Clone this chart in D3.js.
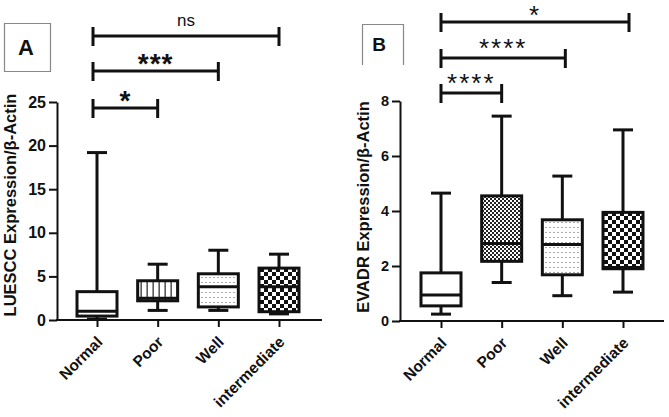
<!DOCTYPE html>
<html>
<head>
<meta charset="utf-8">
<script src="https://cdn.jsdelivr.net/npm/d3@7/dist/d3.min.js"></script>
<style>
  body { margin: 0; background: #fff; }
  svg { display: block; }
  text { font-family: "Liberation Sans", Arial, sans-serif; fill: #111; }
</style>
</head>
<body>
<div id="chart"></div>
<script>
// categories on both panels
var cats = ["Normal", "Poor", "Well", "intermediate"];

// panel A - LUESCC box stats (min, q1, median, q3, max)
var luesccMin = [0.1, 1.1, 1.1, 0.7];
var luesccQ1  = [0.45, 2.2, 1.5, 0.95];
var luesccMed = [1.0, 2.5, 3.8, 3.8];
var luesccQ3  = [3.25, 4.5, 5.3, 5.95];
var luesccMax = [19.2, 6.4, 8.0, 7.55];
var ticksA = [0, 5, 10, 15, 20, 25];

// panel B - EVADR box stats
var evadrMin = [0.25, 1.4, 0.92, 1.05];
var evadrQ1  = [0.55, 2.17, 1.68, 1.9];
var evadrMed = [0.95, 2.82, 2.78, 1.95];
var evadrQ3  = [1.75, 4.55, 3.68, 3.95];
var evadrMax = [4.65, 7.45, 5.27, 6.95];
var ticksB = [0, 2, 4, 6, 8];

// significance brackets
var sigA = [
  {a: "Normal", b: "Poor", label: "*"},
  {a: "Normal", b: "Well", label: "***"},
  {a: "Normal", b: "intermediate", label: "ns"}
];
var sigB = [
  {a: "Normal", b: "Poor", label: "****"},
  {a: "Normal", b: "Well", label: "****"},
  {a: "Normal", b: "intermediate", label: "*"}
];

var fillsA = ["plain", "stripes", "dots", "checker"];
var fillsB = ["plain", "finecheck", "dots", "checker"];

var svg = d3.select("#chart").append("svg")
    .attr("width", 669)
    .attr("height", 417);

svg.append("rect").attr("width", 669).attr("height", 417).attr("fill", "#fff");

// fill patterns
var defs = svg.append("defs");
var p = defs.append("pattern").attr("id", "stripes").attr("patternUnits", "userSpaceOnUse")
    .attr("width", 6).attr("height", 10);
p.append("rect").attr("width", 6).attr("height", 10).attr("fill", "#fff");
p.append("rect").attr("x", 2.5).attr("width", 1.3).attr("height", 10).attr("fill", "#333");

p = defs.append("pattern").attr("id", "dots").attr("patternUnits", "userSpaceOnUse")
    .attr("width", 4).attr("height", 5);
p.append("rect").attr("width", 4).attr("height", 5).attr("fill", "#fff");
p.append("rect").attr("x", 1.5).attr("y", 2).attr("width", 1).attr("height", 1).attr("fill", "#555");

p = defs.append("pattern").attr("id", "checker").attr("patternUnits", "userSpaceOnUse")
    .attr("width", 8).attr("height", 8);
p.append("rect").attr("width", 8).attr("height", 8).attr("fill", "#fff");
p.append("rect").attr("width", 4).attr("height", 4).attr("fill", "#111");
p.append("rect").attr("x", 4).attr("y", 4).attr("width", 4).attr("height", 4).attr("fill", "#111");

p = defs.append("pattern").attr("id", "finecheck").attr("patternUnits", "userSpaceOnUse")
    .attr("width", 4).attr("height", 4);
p.append("rect").attr("width", 4).attr("height", 4).attr("fill", "#fff");
p.append("rect").attr("width", 2).attr("height", 2).attr("fill", "#222");
p.append("rect").attr("x", 2).attr("y", 2).attr("width", 2).attr("height", 2).attr("fill", "#222");

function drawPanel(cfg)
{
    var y = d3.scaleLinear().domain(cfg.domain).range([cfg.y0, cfg.y1]);
    var x = d3.scalePoint().domain(cats).range(cfg.xr);

    var g = svg.append("g");

    // y axis
    g.append("g")
        .attr("transform", "translate(" + cfg.ax + ",0)")
        .call(d3.axisLeft(y).tickValues(cfg.ticks).tickSize(8).tickSizeOuter(0).tickPadding(3))
        .call(function(a) {
            a.selectAll("path, line").attr("stroke", "#111").attr("stroke-width", 2);
            a.selectAll("text").attr("font-size", cfg.tickFont).attr("font-weight", "bold")
                .attr("font-family", "Liberation Sans, Arial, sans-serif").attr("fill", "#111");
        });

    // x axis
    g.append("line")
        .attr("x1", cfg.ax - 1).attr("x2", cfg.axEnd)
        .attr("y1", y(0)).attr("y2", y(0))
        .attr("stroke", "#111").attr("stroke-width", 2);
    var xa = g.append("g")
        .attr("transform", "translate(0," + y(0) + ")")
        .call(d3.axisBottom(x).tickSize(7).tickSizeOuter(0));
    xa.select(".domain").remove();
    xa.selectAll("line").attr("stroke", "#111").attr("stroke-width", 2);
    xa.selectAll("text")
        .attr("font-size", 15.5).attr("font-weight", "bold")
        .attr("font-family", "Liberation Sans, Arial, sans-serif").attr("fill", "#111")
        .attr("text-anchor", "end")
        .attr("dy", 0)
        .attr("y", 0)
        .attr("transform", "translate(6,23)rotate(-45)");

    // boxes
    var bw = 40, cw = 20;
    var stats = cats.map(function(c, i) {
        return {cat: c, min: cfg.min[i], q1: cfg.q1[i], med: cfg.med[i], q3: cfg.q3[i], max: cfg.max[i], fill: cfg.fills[i]};
    });
    var box = g.selectAll(".box").data(stats).enter().append("g").attr("class", "box");
    box.append("line")
        .attr("x1", function(d) { return x(d.cat); }).attr("x2", function(d) { return x(d.cat); })
        .attr("y1", function(d) { return y(d.min); }).attr("y2", function(d) { return y(d.max); })
        .attr("stroke", "#111").attr("stroke-width", 3);
    box.selectAll(".cap").data(function(d) { return [[d.cat, d.min], [d.cat, d.max]]; })
        .enter().append("line")
        .attr("x1", function(d) { return x(d[0]) - cw / 2; }).attr("x2", function(d) { return x(d[0]) + cw / 2; })
        .attr("y1", function(d) { return y(d[1]); }).attr("y2", function(d) { return y(d[1]); })
        .attr("stroke", "#111").attr("stroke-width", 3);
    box.append("rect")
        .attr("x", function(d) { return x(d.cat) - bw / 2; })
        .attr("width", bw)
        .attr("y", function(d) { return y(d.q3); })
        .attr("height", function(d) { return y(d.q1) - y(d.q3); })
        .attr("fill", function(d) { return d.fill == "plain" ? "#fff" : "url(#" + d.fill + ")"; })
        .attr("stroke", "#111").attr("stroke-width", 3);
    box.append("line")
        .attr("x1", function(d) { return x(d.cat) - bw / 2; }).attr("x2", function(d) { return x(d.cat) + bw / 2; })
        .attr("y1", function(d) { return y(d.med); }).attr("y2", function(d) { return y(d.med); })
        .attr("stroke", "#111").attr("stroke-width", 3);

    // y label
    g.append("text")
        .attr("transform", "translate(" + cfg.labX + "," + cfg.labY + ")rotate(-90)")
        .attr("text-anchor", "middle")
        .attr("font-size", 16.5).attr("font-weight", "bold")
        .text(cfg.label);

    // significance brackets
    cfg.sig.forEach(function(s, i) {
        var by = cfg.sigY[i];
        var x1 = x(s.a) + cfg.sigDx[0], x2 = x(s.b) + cfg.sigDx[1] * i;
        g.append("path")
            .attr("d", "M" + x1 + "," + (by - 9) + "V" + (by + 10) + "M" + x1 + "," + by + "H" + x2 +
                       "M" + x2 + "," + (by - 9) + "V" + (by + 10))
            .attr("fill", "none").attr("stroke", "#111").attr("stroke-width", 3);
        var t = g.append("text")
            .attr("x", (x1 + x2) / 2)
            .attr("text-anchor", "middle")
            .text(s.label);
        if (s.label == "ns")
            t.attr("y", by - 10).attr("font-size", 17);
        else
            t.attr("y", Math.max(by + cfg.starDy, cfg.starFont * 0.92)).attr("font-size", cfg.starFont)
             .attr("font-weight", cfg.starWeight).attr("letter-spacing", cfg.starSpace);
    });

    // panel tag
    g.append("path").attr("d", cfg.tagPath).attr("fill", "none").attr("stroke", "#888").attr("stroke-width", 1.2);
    g.append("text")
        .attr("x", cfg.tagX).attr("y", cfg.tagY)
        .attr("text-anchor", "middle")
        .attr("font-size", cfg.tagFont).attr("font-weight", "bold")
        .text(cfg.tag);
}

drawPanel({
    domain: [0, 25], y0: 320, y1: 102, xr: [97, 279], ax: 57, axEnd: 322,
    ticks: ticksA, tickFont: 16,
    min: luesccMin, q1: luesccQ1, med: luesccMed, q3: luesccQ3, max: luesccMax, fills: fillsA,
    label: "LUESCC Expression/\u03b2-Actin", labX: 16, labY: 205,
    sig: sigA, sigY: [108, 71, 36], sigDx: [-4, 0], starDy: 2, starFont: 28, starWeight: "bold", starSpace: 1,
    tag: "A", tagPath: "M4.5,23.5H50.5V71.5H4.5Z", tagX: 26, tagY: 55, tagFont: 22
});

drawPanel({
    domain: [0, 8], y0: 321, y1: 101, xr: [441, 623], ax: 400, axEnd: 664,
    ticks: ticksB, tickFont: 14.5,
    min: evadrMin, q1: evadrQ1, med: evadrMed, q3: evadrQ3, max: evadrMax, fills: fillsB,
    label: "EVADR Expression/\u03b2-Actin", labX: 369, labY: 207,
    sig: sigB, sigY: [93, 58, 22], sigDx: [0, 3], starDy: -1, starFont: 26, starWeight: "normal", starSpace: 2,
    tag: "B", tagPath: "M362.5,65V24.5H403.5V65", tagX: 379, tagY: 51, tagFont: 19
});
</script>
</body>
</html>
